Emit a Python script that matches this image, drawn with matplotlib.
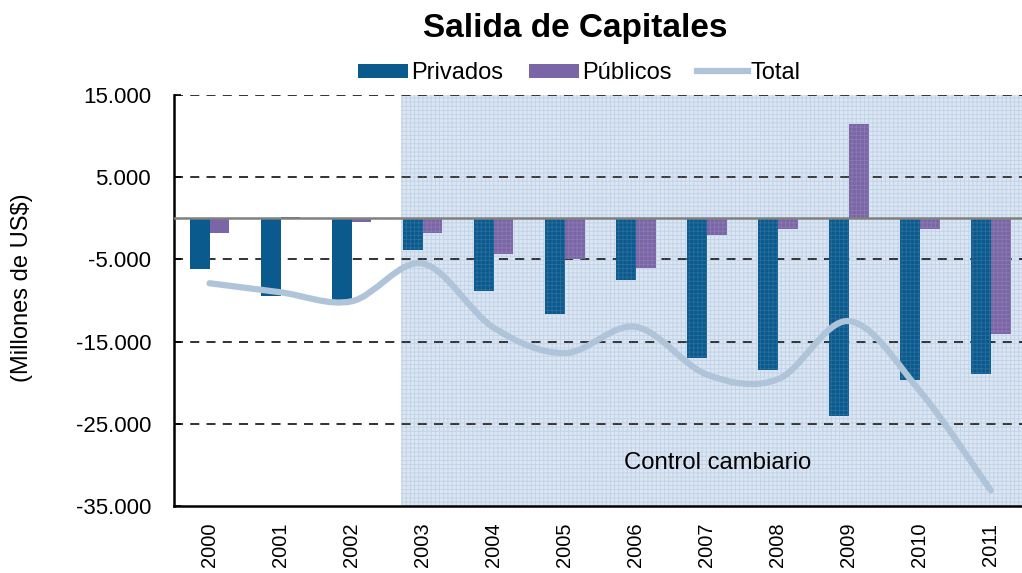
import matplotlib
matplotlib.use("Agg")
import matplotlib.pyplot as plt
import numpy as np
from matplotlib.path import Path
from matplotlib.patches import PathPatch, Rectangle, Patch
from matplotlib.lines import Line2D

plt.rcParams['font.family'] = ['Liberation Sans', 'DejaVu Sans']
plt.rcParams['hatch.linewidth'] = 0.6

years = ['2000', '2001', '2002', '2003', '2004', '2005', '2006', '2007', '2008', '2009', '2010', '2011']
privados = [-6200, -9500, -9900, -3800, -8900, -11700, -7500, -17000, -18400, -24100, -19700, -19000]
publicos = [-1800, 200, -450, -1800, -4400, -4900, -6000, -2000, -1300, 11500, -1300, -14100]
total = [-7900, -9000, -10100, -5500, -13300, -16400, -13200, -19000, -19600, -12500, -21000, -33100]
yticks = [15000, 5000, -5000, -15000, -25000, -35000]
ytick_labels = ['15.000', '5.000', '-5.000', '-15.000', '-25.000', '-35.000']

c_priv = '#0B5A8E'
c_pub = '#7A66A6'
c_tot = '#AFC4D8'

fig = plt.figure(figsize=(10.22, 5.73), dpi=100)
ax = fig.add_axes([174/1022, (573-506)/573, (1022-174)/1022, (506-95)/573])

x = np.arange(len(years))
w = 0.28
ax.set_xlim(-0.5, 11.44)
ax.set_ylim(-35000, 15000)

# shaded "control cambiario" region
ax.add_patch(Rectangle((2.7, -35000), 20, 50000, facecolor='#DCE6F2', edgecolor='none', zorder=0))
ax.add_patch(Rectangle((2.7, -35000), 20, 50000, facecolor='none', edgecolor='#B9CDE5',
                       hatch='++++', linewidth=0, zorder=0.5))

for yv in [15000, 5000, -5000, -15000, -25000]:
    ax.axhline(yv, color='#222222', lw=1.3, ls=(0, (5, 4)), zorder=1)
ax.axhline(0, color='#808080', lw=1.8, zorder=3)

ax.bar(x - w/2, privados, width=w, color=c_priv, zorder=2)
ax.bar(x + w/2, publicos, width=w, color=c_pub, zorder=2)

# overlay hatch to mimic texture on bars in shaded region
ax.add_patch(Rectangle((2.7, -35000), 20, 50000, facecolor='none', edgecolor=(1, 1, 1, 0.12),
                       hatch='++++', linewidth=0, zorder=2.5))

# smoothed total line (Catmull-Rom -> Bezier)
pts = np.column_stack([x, total]).astype(float)
verts = [tuple(pts[0])]
codes = [Path.MOVETO]
n = len(pts)
for i in range(n - 1):
    p0 = pts[i - 1] if i > 0 else pts[i]
    p1 = pts[i]
    p2 = pts[i + 1]
    p3 = pts[i + 2] if i + 2 < n else pts[i + 1]
    c1 = p1 + (p2 - p0) / 6.0
    c2 = p2 - (p3 - p1) / 6.0
    verts += [tuple(c1), tuple(c2), tuple(p2)]
    codes += [Path.CURVE4] * 3
ax.add_patch(PathPatch(Path(verts, codes), facecolor='none', edgecolor=c_tot, lw=4.5,
                       capstyle='round', zorder=4))

ax.text(5.84, -29800, 'Control cambiario', fontsize=17.2, va='center', ha='left', zorder=5)

ax.set_yticks(yticks)
ax.set_yticklabels(ytick_labels, fontsize=16)
ax.set_xticks(x)
ax.set_xticklabels(years, rotation=90, fontsize=14.5, va='top')
ax.tick_params(axis='y', length=5, width=1.2, direction='in', pad=16.5)
ax.tick_params(axis='x', length=0, pad=12)
for s in ['top', 'right']:
    ax.spines[s].set_visible(False)
ax.spines['left'].set_linewidth(1.8)
ax.spines['bottom'].set_linewidth(1.8)

fig.text(22/1022, 1 - 288/573, '(Millones de US$)', fontsize=17, rotation=90,
         ha='center', va='center')

fig.text(575/1022, 1 - 28/573, 'Salida de Capitales', fontsize=24, fontweight='bold',
         ha='center', va='center')

handles = [Patch(facecolor=c_priv), Patch(facecolor=c_pub), Line2D([0], [0], color=c_tot, lw=4.5)]
fig.legend(handles, ['Privados', 'Públicos', 'Total'], loc='center', ncol=3,
           bbox_to_anchor=(579/1022, 1 - 73/573), frameon=False, fontsize=17,
           handlelength=2.15, handleheight=0.55, handletextpad=0.1, columnspacing=1.1,
           borderpad=0)

fig.savefig('out.png', dpi=100)
